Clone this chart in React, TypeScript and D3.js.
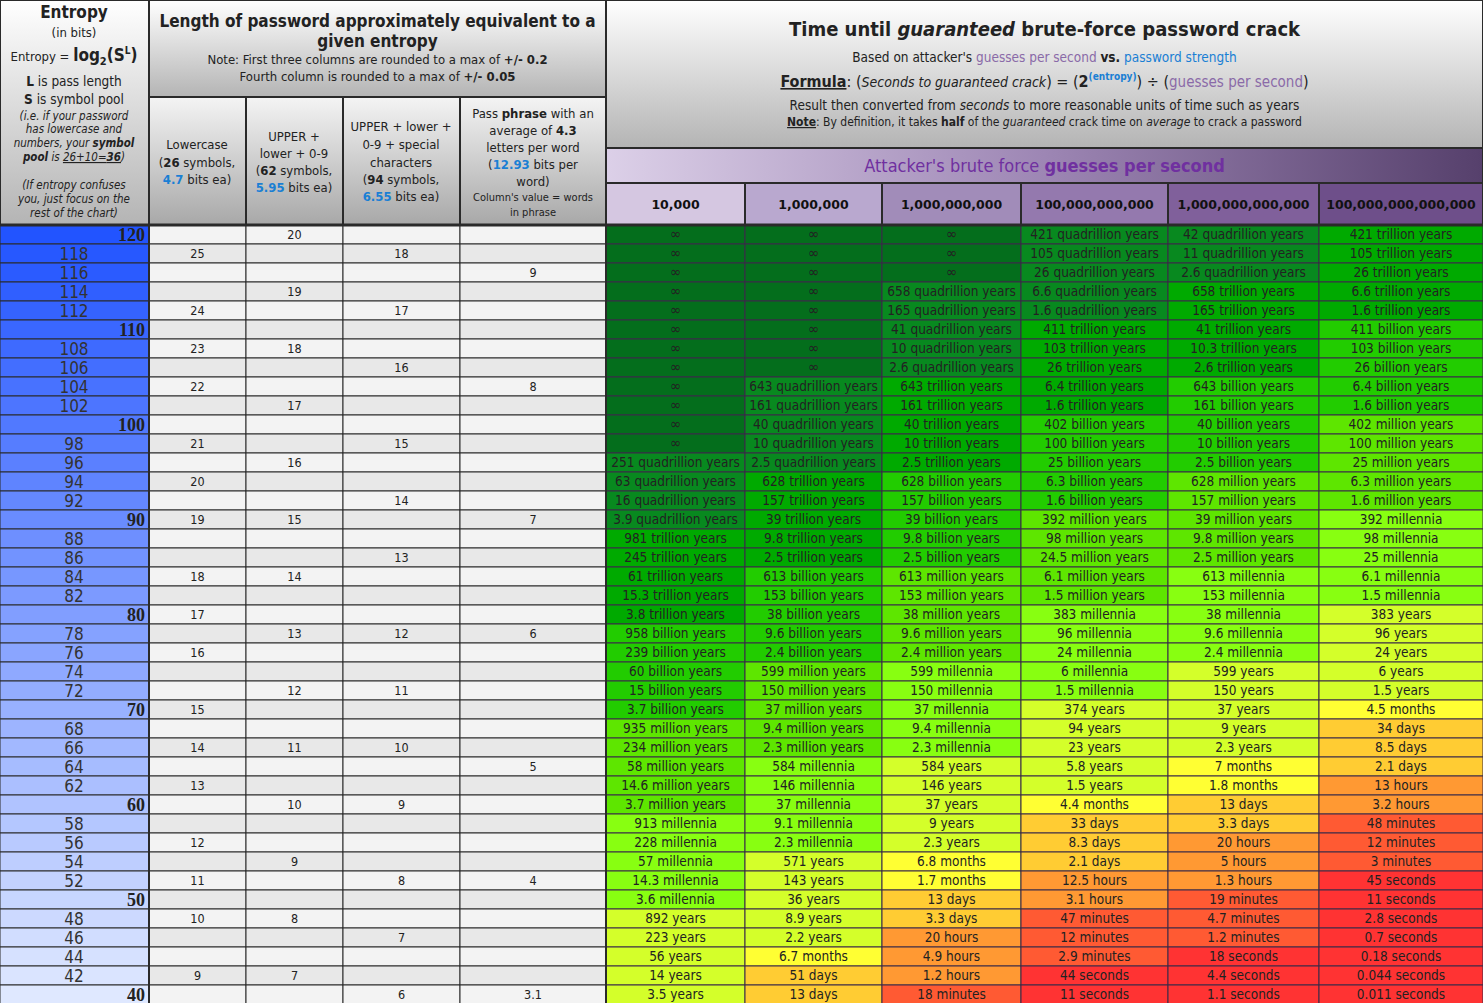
import * as d3 from "d3";

const entropies = d3.range(120, 39, -2);

// password length columns (entropy -> length)
const lowercaseLen: [number, string][] = [[118,"25"],[112,"24"],[108,"23"],[104,"22"],[98,"21"],[94,"20"],[90,"19"],[84,"18"],[80,"17"],[76,"16"],[70,"15"],[66,"14"],[62,"13"],[56,"12"],[52,"11"],[48,"10"],[42,"9"]];
const alnumLen: [number, string][] = [[120,"20"],[114,"19"],[108,"18"],[102,"17"],[96,"16"],[90,"15"],[84,"14"],[78,"13"],[72,"12"],[66,"11"],[60,"10"],[54,"9"],[48,"8"],[42,"7"]];
const specialLen: [number, string][] = [[118,"18"],[112,"17"],[106,"16"],[98,"15"],[92,"14"],[86,"13"],[78,"12"],[72,"11"],[66,"10"],[60,"9"],[52,"8"],[46,"7"],[40,"6"]];
const phraseLen: [number, string][] = [[116,"9"],[104,"8"],[90,"7"],[78,"6"],[64,"5"],[52,"4"],[40,"3.1"]];

const guessRates = ["10,000", "1,000,000", "1,000,000,000", "100,000,000,000", "1,000,000,000,000", "100,000,000,000,000"];
const rateColors = ["#d5c7e1", "#b9a8cf", "#a18cb9", "#9479ae", "#80609b", "#6e4f8a"];

const inf = (n: number) => Array(n).fill("∞");
const times10k = [...inf(12),"251 quadrillion years","63 quadrillion years","16 quadrillion years","3.9 quadrillion years","981 trillion years","245 trillion years","61 trillion years","15.3 trillion years","3.8 trillion years","958 billion years","239 billion years","60 billion years","15 billion years","3.7 billion years","935 million years","234 million years","58 million years","14.6 million years","3.7 million years","913 millennia","228 millennia","57 millennia","14.3 millennia","3.6 millennia","892 years","223 years","56 years","14 years","3.5 years"];
const times1m = [...inf(8),"643 quadrillion years","161 quadrillion years","40 quadrillion years","10 quadrillion years","2.5 quadrillion years","628 trillion years","157 trillion years","39 trillion years","9.8 trillion years","2.5 trillion years","613 billion years","153 billion years","38 billion years","9.6 billion years","2.4 billion years","599 million years","150 million years","37 million years","9.4 million years","2.3 million years","584 millennia","146 millennia","37 millennia","9.1 millennia","2.3 millennia","571 years","143 years","36 years","8.9 years","2.2 years","6.7 months","51 days","13 days"];
const times1b = [...inf(3),"658 quadrillion years","165 quadrillion years","41 quadrillion years","10 quadrillion years","2.6 quadrillion years","643 trillion years","161 trillion years","40 trillion years","10 trillion years","2.5 trillion years","628 billion years","157 billion years","39 billion years","9.8 billion years","2.5 billion years","613 million years","153 million years","38 million years","9.6 million years","2.4 million years","599 millennia","150 millennia","37 millennia","9.4 millennia","2.3 millennia","584 years","146 years","37 years","9 years","2.3 years","6.8 months","1.7 months","13 days","3.3 days","20 hours","4.9 hours","1.2 hours","18 minutes"];
const times100b = ["421 quadrillion years","105 quadrillion years","26 quadrillion years","6.6 quadrillion years","1.6 quadrillion years","411 trillion years","103 trillion years","26 trillion years","6.4 trillion years","1.6 trillion years","402 billion years","100 billion years","25 billion years","6.3 billion years","1.6 billion years","392 million years","98 million years","24.5 million years","6.1 million years","1.5 million years","383 millennia","96 millennia","24 millennia","6 millennia","1.5 millennia","374 years","94 years","23 years","5.8 years","1.5 years","4.4 months","33 days","8.3 days","2.1 days","12.5 hours","3.1 hours","47 minutes","12 minutes","2.9 minutes","44 seconds","11 seconds"];
const times1t = ["42 quadrillion years","11 quadrillion years","2.6 quadrillion years","658 trillion years","165 trillion years","41 trillion years","10.3 trillion years","2.6 trillion years","643 billion years","161 billion years","40 billion years","10 billion years","2.5 billion years","628 million years","157 million years","39 million years","9.8 million years","2.5 million years","613 millennia","153 millennia","38 millennia","9.6 millennia","2.4 millennia","599 years","150 years","37 years","9 years","2.3 years","7 months","1.8 months","13 days","3.3 days","20 hours","5 hours","1.3 hours","19 minutes","4.7 minutes","1.2 minutes","18 seconds","4.4 seconds","1.1 seconds"];
const times100t = ["421 trillion years","105 trillion years","26 trillion years","6.6 trillion years","1.6 trillion years","411 billion years","103 billion years","26 billion years","6.4 billion years","1.6 billion years","402 million years","100 million years","25 million years","6.3 million years","1.6 million years","392 millennia","98 millennia","25 millennia","6.1 millennia","1.5 millennia","383 years","96 years","24 years","6 years","1.5 years","4.5 months","34 days","8.5 days","2.1 days","13 hours","3.2 hours","48 minutes","12 minutes","3 minutes","45 seconds","11 seconds","2.8 seconds","0.7 seconds","0.18 seconds","0.044 seconds","0.011 seconds"];
const timeColumns = [times10k, times1m, times1b, times100b, times1t, times100t];

const unitKeys = ["∞","quadrillion","trillion","billion","million","millennia","years","months","days","hours","minutes","seconds"];
const unitColors = ["#046e1c","#08891f","#00aa00","#22cc00","#5ee600","#88ff11","#d4ff2a","#ffff33","#ffcc33","#ff9933","#ff5a33","#ff3333"];
const unitColor = d3.scaleOrdinal<string, string>().domain(unitKeys).range(unitColors);
const unitOf = (s: string) => unitKeys.find((k) => s.includes(k)) || "years";

const W = 1483, H = 1003;
const colX = [0, 149, 246, 343, 460, 606, 745, 882, 1021, 1168, 1319, 1483];
const y = d3.scaleBand<number>().domain(entropies).range([225, 1004]);
const entColor = d3.scaleLinear<string>().domain([120, 40]).range(["#2254ff", "#dfe8ff"]).interpolate(d3.interpolateRgb);

const FONT = "'DejaVu Sans Condensed', 'DejaVu Sans', sans-serif";
const BLUE = "#1a7fd4";
const PURP = "#8a6aa8";

function LenCol({ data, col }: { data: [number, string][]; col: number }) {
  const map = new Map(data);
  const x0 = colX[col], x1 = colX[col + 1];
  return (
    <g>
      {entropies.map((e, i) => (
        <g key={e}>
          <rect x={x0} y={y(e)} width={x1 - x0} height={y.bandwidth()} fill={i % 2 ? "#e8e8e8" : "#f3f3f3"} stroke="#2a2a2a" strokeWidth={1} />
          {map.has(e) && (
            <text x={(x0 + x1) / 2} y={y(e)! + 14} textAnchor="middle" fontSize={12.5} fill="#222">{map.get(e)}</text>
          )}
        </g>
      ))}
    </g>
  );
}

export default function App() {
  const centerL = (colX[1] + colX[5]) / 2;
  const centerR = (colX[5] + W) / 2;
  return (
    <svg width={W} height={H} style={{ position: "absolute", left: 0, top: 0, fontFamily: FONT }}>
      <defs>
        <linearGradient id="hdr" x1="0" y1="0" x2="0" y2="1">
          <stop offset="0" stopColor="#ffffff" />
          <stop offset="1" stopColor="#b4b4b4" />
        </linearGradient>
        <linearGradient id="hdr2" x1="0" y1="0" x2="0" y2="1">
          <stop offset="0" stopColor="#f4f4f4" />
          <stop offset="1" stopColor="#a8a8a8" />
        </linearGradient>
        <linearGradient id="purp" x1="0" y1="0" x2="1" y2="0">
          <stop offset="0" stopColor="#dcd0e8" />
          <stop offset="0.5" stopColor="#9d86b4" />
          <stop offset="1" stopColor="#56406c" />
        </linearGradient>
      </defs>
      <rect width={W} height={H} fill="#fff" />

      {/* left header */}
      <rect x={0} y={0} width={149} height={225} fill="url(#hdr)" stroke="#2a2a2a" strokeWidth={2} />
      <g textAnchor="middle" fill="#222">
        <text x={74} y={18} fontSize={17} fontWeight="bold">Entropy</text>
        <text x={74} y={37} fontSize={13}>(in bits)</text>
        <text x={74} y={61} fontSize={13}>Entropy = <tspan fontSize={17} fontWeight="bold">log</tspan><tspan fontSize={11} fontWeight="bold" dy={4}>2</tspan><tspan fontSize={17} fontWeight="bold" dy={-4}>(S</tspan><tspan fontSize={10} fontWeight="bold" dy={-7}>L</tspan><tspan fontSize={17} fontWeight="bold" dy={7}>)</tspan></text>
        <text x={74} y={86} fontSize={13.5}><tspan fontWeight="bold">L</tspan> is pass length</text>
        <text x={74} y={104} fontSize={13.5}><tspan fontWeight="bold">S</tspan> is symbol pool</text>
        <g fontSize={11.5} fontStyle="italic">
          <text x={74} y={120}>(i.e. if your password</text>
          <text x={74} y={133}>has lowercase and</text>
          <text x={74} y={147}>numbers, your <tspan fontWeight="bold">symbol</tspan></text>
          <text x={74} y={161}><tspan fontWeight="bold">pool</tspan> is <tspan textDecoration="underline">26+10=<tspan fontWeight="bold">36</tspan></tspan>)</text>
          <text x={74} y={189}>(If entropy confuses</text>
          <text x={74} y={203}>you, just focus on the</text>
          <text x={74} y={217}>rest of the chart)</text>
        </g>
      </g>

      {/* length header */}
      <rect x={149} y={0} width={457} height={97} fill="url(#hdr)" stroke="#2a2a2a" strokeWidth={2} />
      <g textAnchor="middle" fill="#222">
        <text x={centerL} y={27} fontSize={17} fontWeight="bold">Length of password approximately equivalent to a</text>
        <text x={centerL} y={47} fontSize={17} fontWeight="bold">given entropy</text>
        <text x={centerL} y={64} fontSize={13}>Note: First three columns are rounded to a max of <tspan fontWeight="bold">+/- 0.2</tspan></text>
        <text x={centerL} y={81} fontSize={13}>Fourth column is rounded to a max of <tspan fontWeight="bold">+/- 0.05</tspan></text>
      </g>
      {[1, 2, 3, 4].map((c) => (
        <rect key={c} x={colX[c]} y={97} width={colX[c + 1] - colX[c]} height={128} fill="url(#hdr2)" stroke="#2a2a2a" strokeWidth={2} />
      ))}
      <g textAnchor="middle" fill="#222" fontSize={13}>
        <text x={197} y={149}>Lowercase</text>
        <text x={197} y={167}>(<tspan fontWeight="bold">26</tspan> symbols,</text>
        <text x={197} y={184}><tspan fill={BLUE} fontWeight="bold">4.7</tspan> bits ea)</text>
        <text x={294} y={141}>UPPER +</text>
        <text x={294} y={158}>lower + 0-9</text>
        <text x={294} y={175}>(<tspan fontWeight="bold">62</tspan> symbols,</text>
        <text x={294} y={192}><tspan fill={BLUE} fontWeight="bold">5.95</tspan> bits ea)</text>
        <text x={401} y={131}>UPPER + lower +</text>
        <text x={401} y={149}>0-9 + special</text>
        <text x={401} y={167}>characters</text>
        <text x={401} y={184}>(<tspan fontWeight="bold">94</tspan> symbols,</text>
        <text x={401} y={201}><tspan fill={BLUE} fontWeight="bold">6.55</tspan> bits ea)</text>
        <text x={533} y={118}>Pass <tspan fontWeight="bold">phrase</tspan> with an</text>
        <text x={533} y={135}>average of <tspan fontWeight="bold">4.3</tspan></text>
        <text x={533} y={152}>letters per word</text>
        <text x={533} y={169}>(<tspan fill={BLUE} fontWeight="bold">12.93</tspan> bits per</text>
        <text x={533} y={186}>word)</text>
        <text x={533} y={201} fontSize={11}>Column's value = words</text>
        <text x={533} y={216} fontSize={11}>in phrase</text>
      </g>

      {/* right header */}
      <rect x={606} y={0} width={W - 606} height={148} fill="url(#hdr)" stroke="#2a2a2a" strokeWidth={2} />
      <g textAnchor="middle" fill="#222">
        <text x={centerR} y={36} fontSize={20} fontWeight="bold">Time until <tspan fontStyle="italic">guaranteed</tspan> brute-force password crack</text>
        <text x={centerR} y={62} fontSize={13.5}>Based on attacker's <tspan fill={PURP}>guesses per second</tspan> <tspan fontWeight="bold">vs.</tspan> <tspan fill={BLUE}>password strength</tspan></text>
        <text x={centerR} y={87} fontSize={16}><tspan fontWeight="bold" textDecoration="underline">Formula</tspan>: (<tspan fontStyle="italic" fontSize={14}>Seconds to guaranteed crack</tspan>) = (<tspan fontWeight="bold">2</tspan><tspan fontSize={10} fill={BLUE} fontWeight="bold" dy={-7}>(entropy)</tspan><tspan dy={7}>) ÷ (</tspan><tspan fill={PURP} fontSize={15}>guesses per second</tspan>)</text>
        <text x={centerR} y={110} fontSize={13.5}>Result then converted from <tspan fontStyle="italic">seconds</tspan> to more reasonable units of time such as years</text>
        <text x={centerR} y={126} fontSize={12}><tspan fontWeight="bold" textDecoration="underline">Note</tspan>: By definition, it takes <tspan fontWeight="bold">half</tspan> of the <tspan fontStyle="italic">guaranteed</tspan> crack time on <tspan fontStyle="italic">average</tspan> to crack a password</text>
      </g>
      <rect x={606} y={148} width={W - 606} height={35} fill="url(#purp)" stroke="#2a2a2a" strokeWidth={2} />
      <text x={centerR} y={172} textAnchor="middle" fontSize={18} fill="#7030a0">Attacker's brute force <tspan fontWeight="bold">guesses per second</tspan></text>
      {guessRates.map((g, i) => (
        <g key={g}>
          <rect x={colX[i + 5]} y={183} width={colX[i + 6] - colX[i + 5]} height={42} fill={rateColors[i]} stroke="#2a2a2a" strokeWidth={2} />
          <text x={(colX[i + 5] + colX[i + 6]) / 2} y={209} textAnchor="middle" fontSize={12.5} fontWeight="bold" fontFamily="'DejaVu Sans', sans-serif" fill="#111">{g}</text>
        </g>
      ))}

      {/* entropy column */}
      {entropies.map((e) => (
        <g key={e}>
          <rect x={0} y={y(e)} width={149} height={y.bandwidth()} fill={entColor(e)} stroke="#2a2a2a" strokeWidth={1} />
          {e % 10 === 0 ? (
            <text x={145} y={y(e)! + 16} textAnchor="end" fontSize={18} fontWeight="bold" fontFamily="'Liberation Serif', serif" fill="#222">{e}</text>
          ) : (
            <text x={74} y={y(e)! + 16} textAnchor="middle" fontSize={17} fill="#333">{e}</text>
          )}
        </g>
      ))}

      <LenCol data={lowercaseLen} col={1} />
      <LenCol data={alnumLen} col={2} />
      <LenCol data={specialLen} col={3} />
      <LenCol data={phraseLen} col={4} />

      {/* time cells */}
      {timeColumns.map((col, ci) => (
        <g key={ci}>
          {col.map((t, ri) => {
            const e = entropies[ri];
            const x0 = colX[ci + 5], x1 = colX[ci + 6];
            return (
              <g key={ri}>
                <rect x={x0} y={y(e)} width={x1 - x0} height={y.bandwidth()} fill={unitColor(unitOf(t))} stroke="#3a2a48" strokeWidth={1} />
                <text x={(x0 + x1) / 2} y={y(e)! + 14} textAnchor="middle" fontSize={t === "∞" ? 15 : 13.5} fill="#222">{t}</text>
              </g>
            );
          })}
        </g>
      ))}
      <line x1={149} x2={149} y1={225} y2={H} stroke="#2a2a2a" strokeWidth={2} />
      <line x1={606} x2={606} y1={225} y2={H} stroke="#2a2a2a" strokeWidth={2} />
      <line x1={0} x2={W} y1={225} y2={225} stroke="#2a2a2a" strokeWidth={3} />
    </svg>
  );
}
